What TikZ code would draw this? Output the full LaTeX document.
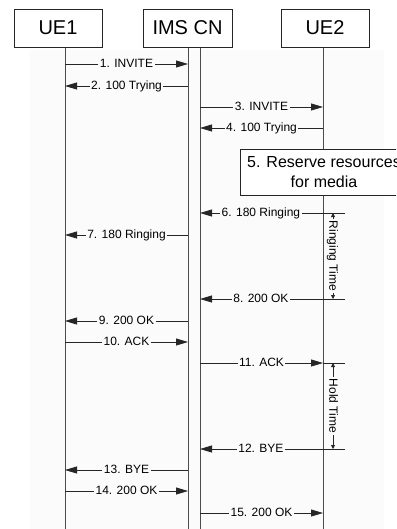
\documentclass[tikz,border=0pt]{standalone}
\usepackage{fontspec}
\setmainfont{Liberation Sans}
\usetikzlibrary{arrows.meta}
\definecolor{bg}{gray}{0.985}

\begin{document}
\begin{tikzpicture}[
  x=1pt,y=-1pt,
  font=\fontsize{12}{14}\selectfont,
  >={Triangle[length=12pt,width=7pt]},
  entity/.style={draw=black!85,line width=0.8pt,fill=white,minimum width=88pt,
                 minimum height=38pt,inner sep=0pt,font=\fontsize{20}{24}\selectfont},
  life/.style={draw=black!70,line width=0.8pt},
  msg/.style={draw=black!85,line width=0.8pt},
  lbl/.style={fill=bg,inner xsep=1.5pt,inner ysep=1pt,text height=0.72em,text depth=0pt},
  note/.style={draw=black!85,line width=0.8pt,fill=white,minimum width=168pt,
               minimum height=46pt,align=center,font=\fontsize{16}{20}\selectfont},
  timer/.style={draw=black!85,line width=0.8pt,
                {Triangle[length=4pt,width=4pt]}-{Triangle[length=4pt,width=4pt]}},
  tlbl/.style={lbl,rotate=-90}
]

\clip (0,0) rectangle (396,529);
\fill[bg] (30,50) rectangle (384,529);

% lifelines
\coordinate (l1) at (65,47);   \coordinate (l1e) at (65,529);
\coordinate (l2) at (188,47);  \coordinate (l2e) at (188,529);
\coordinate (l3) at (200,47);  \coordinate (l3e) at (200,529);
\coordinate (l4) at (323,47);  \coordinate (l4e) at (323,529);
\draw[life] (l1) -- (l1e);
\draw[life] (l2) -- (l2e);
\draw[life] (l3) -- (l3e);
\draw[life] (l4) -- (l4e);

\node[entity] (ue1) at (58,28) {UE1};
\node[entity,minimum width=89pt] (ims) at (187.5,28) {IMS CN};
\node[entity] (ue2) at (325,28) {UE2};

% message end points
\coordinate (a1) at (65,64);   \coordinate (b1) at (188,64);
\coordinate (a2) at (188,86);  \coordinate (b2) at (65,86);
\coordinate (a3) at (200,107); \coordinate (b3) at (323,107);
\coordinate (a4) at (323,128); \coordinate (b4) at (200,128);
\coordinate (a6) at (345,213); \coordinate (b6) at (200,213);
\coordinate (a7) at (188,235); \coordinate (b7) at (65,235);
\coordinate (a8) at (345,299); \coordinate (b8) at (200,299);
\coordinate (a9) at (188,321); \coordinate (b9) at (65,321);
\coordinate (a10) at (65,342); \coordinate (b10) at (188,342);
\coordinate (a11) at (200,363); \coordinate (b11) at (323,363); \coordinate (c11) at (345,363);
\coordinate (a12) at (345,449); \coordinate (b12) at (200,449);
\coordinate (a13) at (188,470); \coordinate (b13) at (65,470);
\coordinate (a14) at (65,491); \coordinate (b14) at (188,491);
\coordinate (a15) at (200,513); \coordinate (b15) at (323,513);

\draw[msg,->] (a1) -- node[lbl] (t1) {1. INVITE} (b1);
\draw[msg,->] (a2) -- node[lbl] (t2) {2. 100 Trying} (b2);
\draw[msg,->] (a3) -- node[lbl] (t3) {3. INVITE} (b3);
\draw[msg,->] (a4) -- node[lbl] (t4) {4. 100 Trying} (b4);

\node[note] (res) at (324,172) {5. Reserve resources\\for media};

\draw[msg,->] (a6) -- node[lbl,pos=0.58] (t6) {6. 180 Ringing} (b6);
\draw[msg,->] (a7) -- node[lbl] (t7) {7. 180 Ringing} (b7);
\draw[msg,->] (a8) -- node[lbl,pos=0.58] (t8) {8. 200 OK} (b8);
\draw[msg,->] (a9) -- node[lbl] (t9) {9. 200 OK} (b9);
\draw[msg,->] (a10) -- node[lbl] (t10) {10. ACK} (b10);
\draw[msg,->] (a11) -- node[lbl] (t11) {11. ACK} (b11);
\draw[msg] (b11) -- (c11);
\draw[msg,->] (a12) -- node[lbl,pos=0.58] (t12) {12. BYE} (b12);
\draw[msg,->] (a13) -- node[lbl] (t13) {13. BYE} (b13);
\draw[msg,->] (a14) -- node[lbl] (t14) {14. 200 OK} (b14);
\draw[msg,->] (a15) -- node[lbl] (t15) {15. 200 OK} (b15);

% timers on the UE2 side
\coordinate (r1) at (333,213); \coordinate (r2) at (333,299);
\coordinate (h1) at (333,363); \coordinate (h2) at (333,449);
\draw[timer] (r1) -- node[tlbl] (rt) {Ringing Time} (r2);
\draw[timer] (h1) -- node[tlbl] (ht) {Hold Time} (h2);

\end{tikzpicture}
\end{document}
